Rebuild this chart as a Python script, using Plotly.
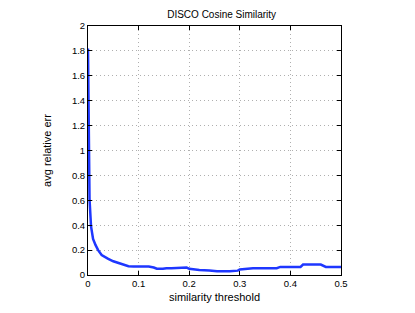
import plotly.graph_objects as go

threshold = [0.0, 0.001, 0.002, 0.003, 0.006, 0.01, 0.015, 0.02, 0.027, 0.033, 0.04, 0.05,
             0.06, 0.07, 0.08, 0.09, 0.1, 0.12, 0.13, 0.136, 0.148, 0.155, 0.165, 0.18, 0.195,
             0.2, 0.22, 0.24, 0.255, 0.28, 0.296, 0.3, 0.32, 0.326, 0.373, 0.38, 0.42, 0.425,
             0.46, 0.47, 0.5]
avg_err = [1.82, 1.3, 1.0, 0.61, 0.39, 0.29, 0.24, 0.2, 0.16, 0.145, 0.13, 0.11,
           0.095, 0.085, 0.07, 0.068, 0.068, 0.068, 0.06, 0.05, 0.05, 0.055, 0.055, 0.06, 0.06,
           0.05, 0.04, 0.037, 0.03, 0.03, 0.035, 0.045, 0.05, 0.055, 0.055, 0.065, 0.065, 0.084,
           0.084, 0.065, 0.065]

x_ticks = [0, 0.1, 0.2, 0.3, 0.4, 0.5]
x_ticklabels = ["0", "0.1", "0.2", "0.3", "0.4", "0.5"]
y_ticks = [0, 0.2, 0.4, 0.6, 0.8, 1, 1.2, 1.4, 1.6, 1.8, 2]
y_ticklabels = ["0", "0.2", "0.4", "0.6", "0.8", "1", "1.2", "1.4", "1.6", "1.8", "2"]

fig = go.Figure()
fig.add_trace(go.Scatter(x=threshold, y=avg_err, mode="lines",
                         line=dict(color="rgb(30,55,255)", width=2.5), showlegend=False))

font = "Liberation Sans, Arial, Helvetica, sans-serif"
axis_common = dict(showline=True, linecolor="black", linewidth=1, mirror="ticks",
                   ticks="inside", ticklen=4, tickcolor="black",
                   showgrid=True, gridcolor="rgb(175,175,175)", griddash="1px,3px", gridwidth=1,
                   zeroline=False, tickfont=dict(size=9.5, color="black", family=font))

fig.update_layout(
    width=407, height=305,
    margin=dict(l=80, r=74, t=15, b=36),
    paper_bgcolor="white", plot_bgcolor="white",
    title=dict(text="DISCO Cosine Similarity", x=0.525, xanchor="center", y=0.978, yanchor="middle",
               font=dict(size=10, color="black", family=font)),
    xaxis=dict(range=[0, 0.5], tickvals=x_ticks, ticktext=x_ticklabels,
               title=dict(text="similarity threshold", font=dict(size=11, color="black", family=font), standoff=4),
               **axis_common),
    yaxis=dict(range=[0, 2], tickvals=y_ticks, ticktext=y_ticklabels,
               title=dict(text="avg relative err", font=dict(size=11, color="black", family=font), standoff=18),
               **axis_common),
)

fig.write_html("out.html")
